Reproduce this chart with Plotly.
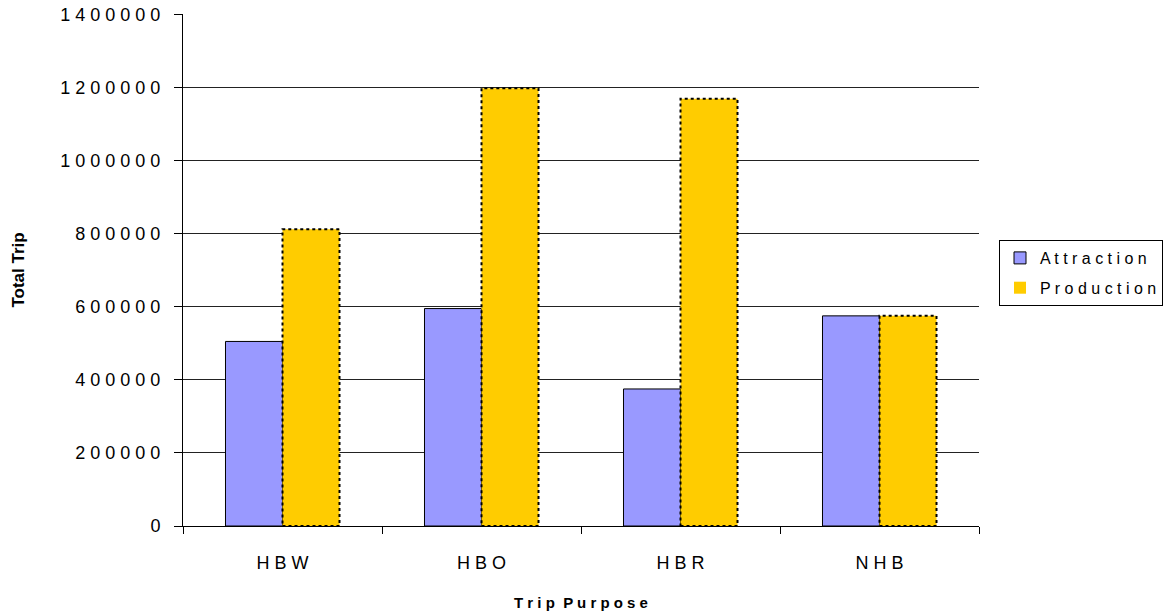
import plotly.graph_objects as go

# Trip totals by purpose
categories = ["HBW", "HBO", "HBR", "NHB"]
attraction = [505000, 595000, 375000, 575000]
production = [812000, 1198000, 1169000, 575000]
y_ticks = [0, 200000, 400000, 600000, 800000, 1000000, 1200000, 1400000]

FONT = "Liberation Sans, Arial, sans-serif"
BAR_GAP = 0.427


def spaced(text, word_gap="\u00a0\u00a0\u00a0"):
    """Widen letter spacing by putting a space between characters."""
    return word_gap.join(" ".join(w) for w in text.split(" "))


fig = go.Figure()
fig.add_trace(go.Bar(
    x=categories, y=attraction, name=spaced("Attraction"),
    marker=dict(color="#9999FF", line=dict(color="black", width=1)),
    legendgroup="a",
))
fig.add_trace(go.Bar(
    x=categories, y=production, name=spaced("Production"),
    marker=dict(color="#FFCC00", line=dict(color="rgba(0,0,0,0)", width=0)),
    legendgroup="p",
))

# dotted outlines for the production bars, placed from the bar geometry
half = (1 - BAR_GAP) / 2
for i, v in enumerate(production):
    fig.add_shape(type="rect", xref="x", yref="y",
                  x0=i, x1=i + half, y0=0, y1=v,
                  line=dict(color="black", width=2, dash="3px,3px"),
                  layer="above")

fig.update_layout(
    width=1165, height=614,
    margin=dict(l=183, r=186, t=14, b=88),
    paper_bgcolor="white", plot_bgcolor="white",
    barmode="group", bargap=BAR_GAP, bargroupgap=0,
    font=dict(family=FONT, size=17, color="black"),
    showlegend=True,
    legend=dict(
        xref="container", yref="container",
        x=999 / 1165, y=1 - 240 / 614, xanchor="left", yanchor="top",
        bordercolor="black", borderwidth=1, bgcolor="white",
        font=dict(size=16), traceorder="grouped", tracegroupgap=6,
        itemwidth=30,
    ),
    xaxis=dict(
        type="category", showline=True, linecolor="black", linewidth=1,
        ticks="outside", ticklen=7, tickcolor="black", tickson="boundaries",
        tickvals=categories, ticktext=[spaced(c) for c in categories],
        tickfont=dict(size=18),
        ticklabelstandoff=20, showgrid=False, automargin=False,
        title=dict(text="<b>" + spaced("Trip Purpose", "\u00a0 ") + "</b>",
                   font=dict(size=15), standoff=25),
    ),
    yaxis=dict(
        range=[0, 1401000], showline=True, linecolor="black", linewidth=1,
        ticks="outside", ticklen=8, tickcolor="black",
        tickvals=y_ticks, ticktext=[spaced(str(t)) for t in y_ticks],
        tickfont=dict(size=18),
        ticklabelstandoff=10, automargin=False,
        showgrid=True, gridcolor="#222222", gridwidth=1, zeroline=False,
        title=dict(text="<b>Total Trip</b>", font=dict(size=17), standoff=31),
    ),
)

fig.write_html("out.html")
